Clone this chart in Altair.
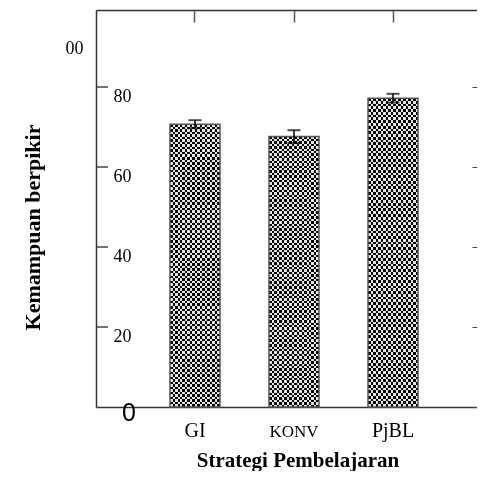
import altair as alt
import pandas as pd

# ---- data ----
categories = ["GI", "KONV", "PjBL"]
means = [70.7, 67.6, 77.2]
errors = [1.0, 1.6, 1.1]
left_ticks = [20, 40, 60, 80]
right_ticks = [0, 20, 40, 60, 80]

df = pd.DataFrame({"strategi": categories, "nilai": means, "err": errors})
df["lo"] = df["nilai"] - df["err"]
df["hi"] = df["nilai"] + df["err"]
tick_df = pd.DataFrame({"v": left_ticks})

W, H = 381, 397
SERIF = "Liberation Serif"
SANS = "Liberation Sans"
LINE = "#333333"

xscale = alt.Scale(domain=categories, paddingInner=0.495, paddingOuter=0.6717, align=0.5564)
yscale = alt.Scale(domain=[0, 99.25], nice=False, zero=True)


def stripes(n, vertical):
    stops = []
    for i in range(n):
        a, m, b = i / n, (i + 0.5) / n, (i + 1) / n
        stops += [
            alt.GradientStop(color="#1a1a1a", offset=a),
            alt.GradientStop(color="#1a1a1a", offset=m),
            alt.GradientStop(color="#ffffff", offset=m),
            alt.GradientStop(color="#ffffff", offset=b),
        ]
    x2, y2 = (1, 0) if vertical else (0, 1)
    return alt.Gradient(gradient="linear", stops=stops, x1=0, y1=0, x2=x2, y2=y2)


# ---- axes ----
x_bottom = alt.Axis(
    orient="bottom", title="Strategi Pembelajaran", titleFont=SERIF, titleFontSize=21,
    titleFontWeight="bold", titleColor="black", titleX=201.5, titleY=59,
    titleAlign="center", titleBaseline="alphabetic",
    labelFont=SERIF, labelColor="black", labelAngle=0, labelPadding=29,
    labelBaseline="alphabetic",
    labelFontSize={"condition": {"test": "datum.value == 'KONV'", "value": 17}, "value": 20},
    ticks=False, tickSize=0, domain=True, domainColor=LINE, domainWidth=1.5, grid=False,
)
x_top_line = alt.Axis(orient="top", title=None, labels=False, ticks=False, tickSize=0,
                      domain=True, domainColor=LINE, domainWidth=1.5, grid=False)
x_top_ticks = alt.Axis(orient="top", title=None, labels=False, ticks=True, tickSize=12,
                       offset=-12, domain=False, tickColor="#555555", tickWidth=1.5, grid=False)

y_left_line = alt.Axis(
    orient="left", values=[90], labelExpr="'00'", ticks=False, tickSize=0, labelPadding=13,
    labelFont=SERIF, labelFontSize=18, labelColor="black", labelBaseline="alphabetic",
    labelOffset=6, labelAlign="right", domain=True, domainColor=LINE, domainWidth=1.5,
    title="Kemampuan berpikir", titleFont=SERIF, titleFontSize=22, titleFontWeight="bold",
    titleColor="black", titleX=-56.5, titleY=217, titleAngle=270, titleAlign="center",
    titleBaseline="alphabetic", grid=False,
)
y_left_labels = alt.Axis(
    orient="left", values=left_ticks, ticks=False, tickSize=0, domain=False,
    labelAlign="left", labelPadding=-17, labelBaseline="alphabetic", labelOffset=14.5,
    labelFont=SERIF, labelFontSize=18, labelColor="black", title=None, grid=False,
)
y_zero = alt.Axis(
    orient="left", values=[0], labelExpr="'0'", ticks=False, tickSize=0, domain=False,
    labelPadding=-32.5, labelAlign="center", labelBaseline="alphabetic", labelOffset=13,
    labelFont=SANS, labelFontSize=25, labelColor="black", title=None, grid=False,
)
y_right = alt.Axis(orient="right", values=right_ticks, offset=-5, tickSize=5, labels=False,
                   domain=False, tickColor="#444444", title=None, grid=False)

base = alt.Chart(df)

# inward tick marks on the left edge, positioned by the y scale
left_inward = alt.Chart(tick_df).mark_rule(color="#444444", strokeWidth=1.5).encode(
    y=alt.Y("v:Q", scale=yscale, axis=None),
    x=alt.value(0),
    x2=alt.value(12),
)

bars_v = base.mark_bar(fill=stripes(10, True), strokeWidth=0).encode(
    x=alt.X("strategi:N", scale=xscale, axis=x_bottom),
    y=alt.Y("nilai:Q", scale=yscale, axis=y_left_line),
)
bars_h = base.mark_bar(fill=stripes(56, False), blend="difference", strokeWidth=0).encode(
    x=alt.X("strategi:N", scale=xscale, axis=x_top_line),
    y=alt.Y("nilai:Q", scale=yscale, axis=y_right),
)
bars_outline = base.mark_bar(fillOpacity=0, stroke="#555555", strokeWidth=1.5).encode(
    x=alt.X("strategi:N", scale=xscale, axis=x_top_ticks),
    y=alt.Y("nilai:Q", scale=yscale, axis=y_left_labels),
)
err_rule = base.mark_rule(color="black", strokeWidth=1.5).encode(
    x=alt.X("strategi:N", scale=xscale, axis=None),
    y=alt.Y("lo:Q", scale=yscale, axis=y_zero),
    y2="hi:Q",
)
cap_hi = base.mark_tick(color="black", thickness=2, size=13).encode(
    x=alt.X("strategi:N", scale=xscale, axis=None),
    y=alt.Y("hi:Q", scale=yscale, axis=None),
)
cap_lo = base.mark_tick(color="black", thickness=2, size=13).encode(
    x=alt.X("strategi:N", scale=xscale, axis=None),
    y=alt.Y("lo:Q", scale=yscale, axis=None),
)

chart = (
    alt.layer(bars_v, bars_h, bars_outline, err_rule, cap_hi, cap_lo, left_inward)
    .resolve_axis(x="independent", y="independent")
    .properties(
        width=W, height=H,
        padding={"left": 88, "top": 2, "right": 0, "bottom": 64},
        autosize=alt.AutoSizeParams(type="none"),
    )
    .configure_view(stroke=None)
)

chart.save("out.html", embed_options={"renderer": "svg", "actions": False})
